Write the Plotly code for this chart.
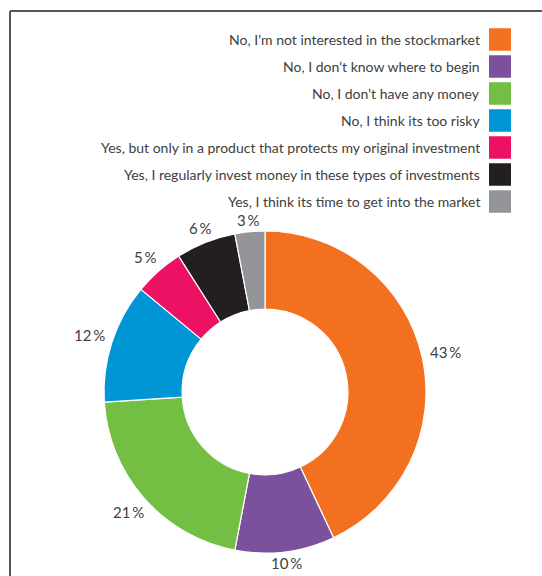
import math
import plotly.graph_objects as go

# Survey answers, clockwise from 12 o'clock
answers = [
    "No, I’m not interested in the stockmarket",
    "No, I don’t know where to begin",
    "No, I don’t have any money",
    "No, I think its too risky",
    "Yes, but only in a product that protects my original investment",
    "Yes, I regularly invest money in these types of investments",
    "Yes, I think its time to get into the market",
]
shares = [43, 10, 21, 12, 5, 6, 3]
colors = ["#F37021", "#7B519D", "#72BF44", "#0096D6", "#ED1164", "#231F20", "#939598"]

W, H = 542, 576
FONT = "Lato, 'Noto Sans', sans-serif"
TEXT_COLOR = "#404040"

# Pie placement (pixels)
CX, CY, R = 265, 392, 161

fig = go.Figure()
fig.add_trace(go.Pie(
    labels=answers,
    values=shares,
    marker=dict(colors=colors, line=dict(color="white", width=1.2)),
    hole=0.515,
    sort=False,
    direction="clockwise",
    rotation=0,
    textinfo="none",
    hoverinfo="skip",
    showlegend=False,
    domain=dict(x=[(CX - R) / W, (CX + R) / W], y=[(H - CY - R) / H, (H - CY + R) / H]),
))

# Percentage labels just outside each slice, at the slice's mid-angle
total = sum(shares)
cum = 0
for v in shares:
    mid = (cum + v / 2) / total * 2 * math.pi
    cum += v
    s, c = math.sin(mid), math.cos(mid)
    d = R + 10 + 14 * abs(s)
    x = CX + d * s
    y = CY - d * c
    fig.add_annotation(x=x / W, y=1 - y / H, xref="paper", yref="paper",
                       text=f"{v}\u2009%", showarrow=False,
                       xanchor="center", yanchor="middle",
                       font=dict(family=FONT, size=15, color=TEXT_COLOR))

# Legend: right-aligned text with colour swatch on its right
top, step, size = 39.5, 27, 22.5
sq_x0, sq_x1 = 489, 511
for i, (name, col) in enumerate(zip(answers, colors)):
    cy = top + i * step
    fig.add_shape(type="rect", xref="paper", yref="paper",
                  x0=sq_x0 / W, x1=sq_x1 / W,
                  y0=1 - (cy + size / 2) / H, y1=1 - (cy - size / 2) / H,
                  fillcolor=col, line=dict(width=0))
    fig.add_annotation(x=482 / W, y=1 - cy / H, xref="paper", yref="paper",
                       text=name, showarrow=False, xanchor="right", yanchor="middle",
                       font=dict(family=FONT, size=14, color=TEXT_COLOR))

# Frame lines along the top and left edges
frame = dict(color="#555555", width=2)
fig.add_shape(type="line", xref="paper", yref="paper",
              x0=10 / W, x1=1.02, y0=1 - 11 / H, y1=1 - 11 / H, line=frame)
fig.add_shape(type="line", xref="paper", yref="paper",
              x0=10 / W, x1=10 / W, y0=-0.02, y1=1 - 11 / H, line=frame)

fig.update_layout(
    width=W, height=H,
    margin=dict(l=0, r=0, t=0, b=0),
    paper_bgcolor="white",
    plot_bgcolor="white",
    font=dict(family=FONT, color=TEXT_COLOR),
)

fig.write_html("out.html")
